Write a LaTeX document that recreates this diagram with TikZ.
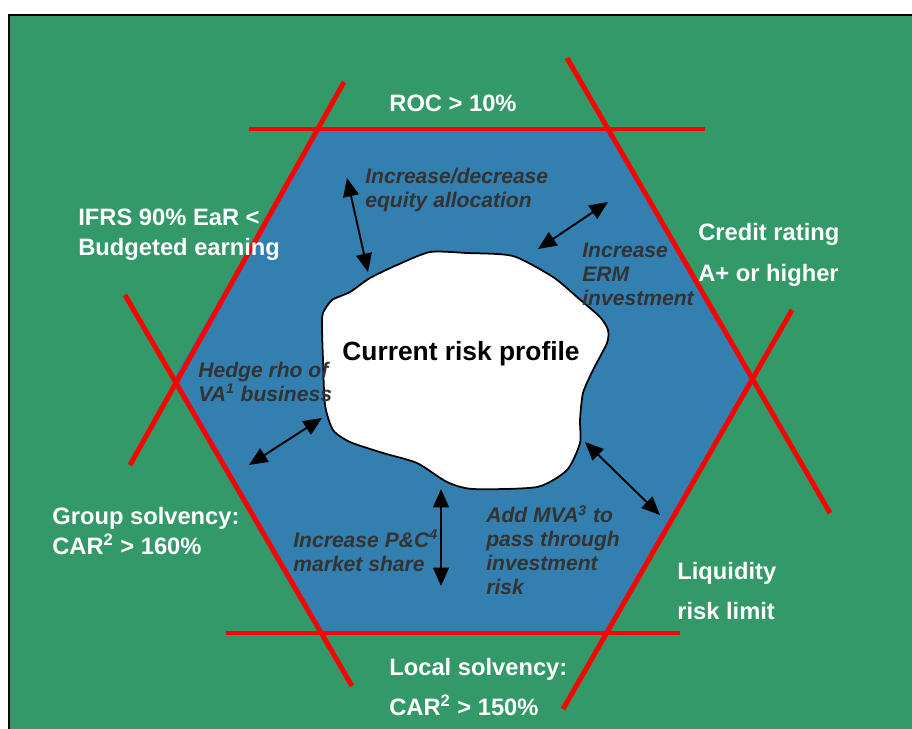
\documentclass[tikz,border=0pt]{standalone}
\usepackage{fontspec}
\setmainfont{Liberation Sans}
\usetikzlibrary{arrows.meta}
\definecolor{bggreen}{RGB}{52,153,104}
\definecolor{hexblue}{RGB}{50,127,176}
\definecolor{labelgrey}{RGB}{51,51,51}

\begin{document}
\begin{tikzpicture}[x=0.02cm,y=-0.02cm]
        \tikzset{goal/.style = {anchor=west,inner sep=0pt,align=left,text=white,font=\bfseries\fontsize{13.5}{17}\selectfont}}
        \tikzset{goalwide/.style = {goal,font=\bfseries\fontsize{13.5}{23}\selectfont}}
        \tikzset{action/.style = {anchor=west,inner sep=0pt,align=left,text=labelgrey,font=\bfseries\itshape\fontsize{12}{13.6}\selectfont}}
        \tikzset{limit/.style = {red,line width=2.8pt}}
        \tikzset{lever/.style = {{Triangle[length=10.5pt,width=9pt]}-{Triangle[length=10.5pt,width=9pt]},line width=1.1pt}}
        \useasboundingbox (0,0) rectangle (912,728);
        % background
        \draw[fill=bggreen,line width=1.2pt] (9,15) rectangle (940,760);
        \fill[hexblue] (318,129) -- (608,129) -- (754,381) -- (608,633) -- (318,633) -- (172,381) -- cycle;
        % limit lines
        \draw[limit] (249,129) -- (705,129);
        \draw[limit] (344,82) -- (130,465);
        \draw[limit] (567,58) -- (830,513);
        \draw[limit] (125,295) -- (352,686);
        \draw[limit] (792,310) -- (563,709);
        \draw[limit] (226,633) -- (680,633);
        % current risk profile
        \draw[fill=white,line width=1pt] plot[smooth cycle,tension=0.4] coordinates {
            (323,313) (332,300) (350,292) (370,278) (397,265) (430,252) (467,253) (513,256)
            (553,277) (577,297) (600,317) (608,330) (607,343) (593,370) (583,393) (580,420)
            (580,443) (567,470) (537,487) (473,489) (447,482) (417,463) (383,453) (350,442)
            (333,430) (325,405) (323,360) (322,327)};
        \node[font=\bfseries\fontsize{15}{18}\selectfont] (profile) at (461,354) {Current risk profile};
        % limits
        \node[goal,anchor=center] (roc) at (453,103) {ROC > 10\%};
        \node[goal] (ear) at (78,235) {IFRS 90\% EaR <\\Budgeted earning};
        \node[goalwide] (rating) at (698,255) {Credit rating\\A+ or higher};
        \node[goal] (group) at (52,531) {Group solvency:\\CAR\textsuperscript{2} > 160\%};
        \node[goalwide] (liquidity) at (677,591) {Liquidity\\risk limit};
        \node[goalwide] (local) at (389,687) {Local solvency:\\CAR\textsuperscript{2} > 150\%};
        % actions
        \node[action] (equity) at (365,190) {Increase/decrease\\equity allocation};
        \node[action] (erm) at (582,274) {Increase\\ERM\\investment};
        \node[action] (hedge) at (198,382) {Hedge rho of\\VA\textsuperscript{1} business};
        \node[action] (pc) at (293,551) {Increase P\&C\textsuperscript{4}\\market share};
        \node[action] (mva) at (486,550) {Add MVA\textsuperscript{3} to\\pass through\\investment\\risk};
        % lever ends
        \coordinate (eqa) at (347,178);
        \coordinate (eqb) at (368,272);
        \coordinate (erma) at (608,202);
        \coordinate (ermb) at (538,249);
        \coordinate (hedgea) at (322,418);
        \coordinate (hedgeb) at (249,465);
        \coordinate (pca) at (441,489);
        \coordinate (pcb) at (441,586);
        \coordinate (mvaa) at (585,442);
        \coordinate (mvab) at (660,515);
        %levers
        \draw[lever] (eqa) -- (eqb);
        \draw[lever] (erma) -- (ermb);
        \draw[lever] (hedgea) -- (hedgeb);
        \draw[lever] (pca) -- (pcb);
        \draw[lever] (mvaa) -- (mvab);
\end{tikzpicture}
\end{document}
